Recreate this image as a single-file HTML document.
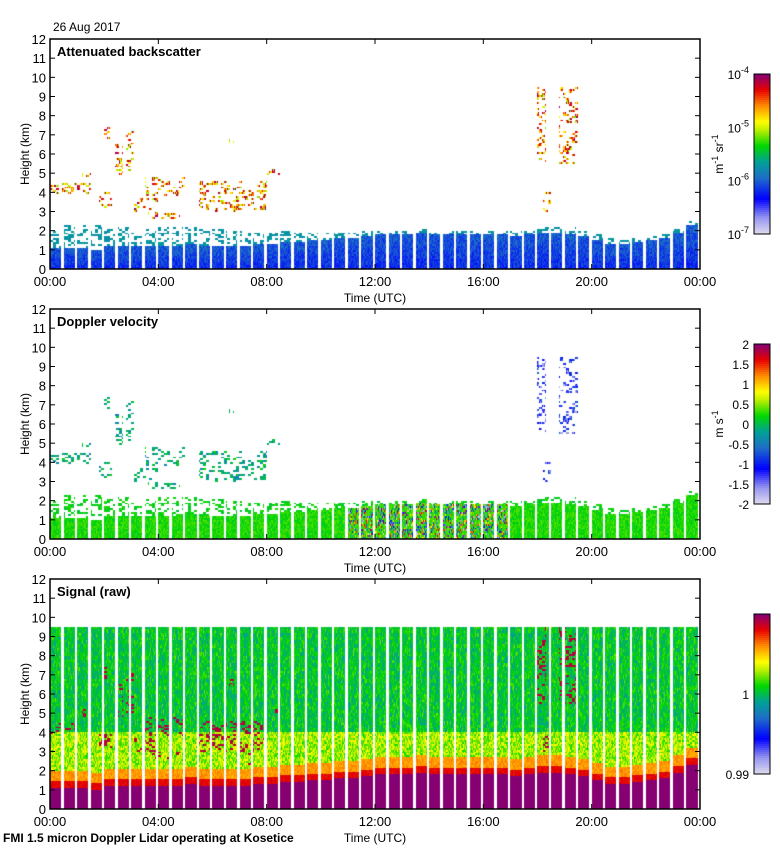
<!DOCTYPE html>
<html><head><meta charset="utf-8"><style>
body{margin:0;background:#fff;font-family:"Liberation Sans",sans-serif;}
#root{position:relative;width:780px;height:850px;overflow:hidden;background:#fff;}
.t{position:absolute;font-size:12px;color:#000;white-space:nowrap;}
canvas{position:absolute;}
</style></head><body>
<div id="root">
<div class="t" style="left:53px;top:20px">26 Aug 2017</div>
<div class="t" style="left:3px;top:831px;font-weight:bold">FMI 1.5 micron Doppler Lidar operating at Kosetice</div>
</div>
<script>
// ---- data ----
const xTickLabels=['00:00','04:00','08:00','12:00','16:00','20:00','00:00'];
const yTickLabels=[0,1,2,3,4,5,6,7,8,9,10,11,12];
// boundary-layer top (km) every 30 min
const blTop=[1.1,1.1,1.1,1.0,1.2,1.2,1.2,1.2,1.2,1.2,1.3,1.2,1.2,1.2,1.2,1.3,1.3,1.4,1.4,1.5,1.5,1.6,1.6,1.7,1.8,1.8,1.8,1.9,1.8,1.8,1.8,1.8,1.8,1.8,1.7,1.8,1.9,1.9,1.8,1.7,1.5,1.3,1.3,1.4,1.5,1.6,1.9,2.3];
// aerosol layer top (km) every 30 min
const aerosolTop=[2.3,2.3,2.3,2.3,2.2,2.2,2.2,2.2,2.2,2.2,2.2,2.1,2.1,2.0,2.0,1.9,1.9,2.0,1.9,1.9,1.9,1.9,1.9,2.0,2.0,2.0,2.0,2.1,2.0,2.0,2.0,2.0,2.0,2.0,2.0,2.0,2.2,2.2,2.2,2.0,1.8,1.6,1.5,1.6,1.7,1.8,2.1,2.5];
// cloud layers: start hour, end hour, base km, top km
const cloudStart=[0,1.2,1.8,2.0,2.4,2.8,3.1,3.5,3.6,5.5,6.6,7.3,8.0,18.0,18.2,18.8,16.9];
const cloudEnd=[1.5,1.5,2.3,2.2,2.7,3.1,4.0,5.0,4.8,8.0,6.8,7.5,8.5,18.3,18.5,19.5,17.0];
const cloudBase=[3.9,4.8,3.2,6.8,4.8,5.0,3.0,3.8,2.6,3.0,6.4,2.2,4.9,5.5,3.0,5.5,3.9];
const cloudTop=[4.5,5.2,4.0,7.4,6.5,7.2,3.7,4.8,3.0,4.6,6.8,3.2,5.2,9.5,4.0,9.5,4.1];
const signalTop=9.5;

const root=document.getElementById('root');
const L=50,W=650,H=230,tops=[39,309,579];
const titles=['Attenuated backscatter','Doppler velocity','Signal (raw)'];
const stops=[[0,[222,218,238]],[0.1,[150,150,240]],[0.22,[0,0,255]],[0.35,[30,110,200]],[0.45,[0,160,150]],[0.55,[0,215,0]],[0.65,[190,240,0]],[0.7,[255,255,0]],[0.8,[255,140,0]],[0.9,[230,0,0]],[1,[130,0,120]]];
function cmap(v){v=Math.max(0,Math.min(1,v));for(let k=1;k<stops.length;k++){if(v<=stops[k][0]){const a=stops[k-1],b=stops[k];const f=(v-a[0])/(b[0]-a[0]);return a[1].map((c,i)=>Math.round(c+(b[1][i]-c)*f));}}return stops[stops.length-1][1];}
function tex(a,b){let h=(a*374761393+b*668265263)|0;h=(h^(h>>>13))*1274126177|0;return ((h^(h>>>16))>>>0)/4294967295;}
const xScale=t=>L+t/24*W, yScale=(h,p)=>tops[p]+H-h/12*H;

function cloudAt(t,h){for(let c=0;c<cloudStart.length;c++){if(t>=cloudStart[c]&&t<cloudEnd[c]&&h>=cloudBase[c]&&h<cloudTop[c])return c;}return -1;}

function valueAt(p,t,h,px,row){
  const i=Math.min(47,Math.floor(t*2));
  const colPos=(t*2-i);const gap=colPos>0.82;
  const bl=blTop[i],ae=aerosolTop[i];
  const n=tex(px,row+p*1000);
  const blob=tex(Math.floor(px/3),row*7+3);
  if(p===2){
    if(h>=signalTop||gap)return null;
    if(h<bl)return 0.99+n*0.01;
    if(h<bl+0.35)return 0.88+n*0.04;
    if(h<bl+0.9)return 0.76+n*0.06;
    const c=cloudAt(t,h);if(c>=0&&blob<0.25)return 0.95;
    if(h<4)return 0.55+n*0.17;
    const streak=tex(px,Math.floor(row/2)+55);
    return 0.42+streak*0.12+n*0.08;
  }
  const c=cloudAt(t,h);
  if(c>=0){ if(blob<0.72)return null;
    if(p===0)return 0.6+tex(row,px)*0.4;
    return t>17.9?0.05+n*0.3:0.35+n*0.22;}
  if(gap)return null;
  if(h<bl){ if(p===0)return 0.22+n*0.1+(h/bl)*0.06;
    if(i>=22&&i<=33&&n<0.45)return tex(row,px*3);
    return 0.52+n*0.08;}
  if(h<ae){ if(blob<0.6)return null; return p===0?0.4+n*0.05:0.5+n*0.08;}
  return null;
}

tops.forEach((top,p)=>{
  const cv=document.createElement('canvas');cv.width=W;cv.height=H;
  cv.style.left=L+'px';cv.style.top=top+'px';
  
  
  root.appendChild(cv);
  const ctx=cv.getContext('2d');const img=ctx.createImageData(W,H);
  for(let y=0;y<H;y++){const h=(H-y-0.5)/H*12;const row=Math.floor(h/0.1);
    for(let x=0;x<W;x++){const t=(x+0.5)/W*24;const v=valueAt(p,t,h,x,row);const o=(y*W+x)*4;
      if(v===null){img.data[o]=img.data[o+1]=img.data[o+2]=255;}else{const c=cmap(v);img.data[o]=c[0];img.data[o+1]=c[1];img.data[o+2]=c[2];}
      img.data[o+3]=255;}}
  ctx.putImageData(img,0,0);

  const ns='http://www.w3.org/2000/svg';
  const svg=document.createElementNS(ns,'svg');svg.setAttribute('width',780);svg.setAttribute('height',850);
  svg.style.position='absolute';svg.style.left='0';svg.style.top='0';
  
  
  let s=`<rect x="${L}" y="${top}" width="${W}" height="${H}" fill="none" stroke="#000" stroke-width="1.5"/>`;
  yTickLabels.forEach(v=>{const y=yScale(v,p);s+=`<line x1="${L}" x2="${L+5}" y1="${y}" y2="${y}" stroke="#000"/><line x1="${L+W-5}" x2="${L+W}" y1="${y}" y2="${y}" stroke="#000"/><text x="${L-4}" y="${y+5}" text-anchor="end" font-size="13" font-family="Liberation Sans">${v}</text>`;});
  xTickLabels.forEach((lab,k)=>{const x=xScale(k*4);s+=`<line x1="${x}" x2="${x}" y1="${top+H-5}" y2="${top+H}" stroke="#000"/><line x1="${x}" x2="${x}" y1="${top}" y2="${top+5}" stroke="#000"/><text x="${x}" y="${top+H+17}" text-anchor="middle" font-size="13" font-family="Liberation Sans">${lab}</text>`;});
  s+=`<text x="${L+325}" y="${top+H+33}" text-anchor="middle" font-size="12" font-family="Liberation Sans">Time (UTC)</text>`;
  s+=`<text transform="translate(29,${top+H/2}) rotate(-90)" text-anchor="middle" font-size="12" font-family="Liberation Sans">Height (km)</text>`;
  s+=`<text x="${L+7}" y="${top+17}" font-size="13" font-weight="bold" font-family="Liberation Sans">${titles[p]}</text>`;
  const cbTop=top+35,cbH=160,cbX=754;
  for(let k=0;k<80;k++){const c=cmap(1-(k+0.5)/80);s+=`<rect x="${cbX}" y="${cbTop+k*2}" width="16" height="2.2" fill="rgb(${c})"/>`;}
  s+=`<rect x="${cbX}" y="${cbTop}" width="16" height="${cbH}" fill="none" stroke="#000"/>`;
  if(p===0){['-4','-5','-6','-7'].forEach((e,k)=>{const y=cbTop+k*cbH/3;s+=`<text x="749" y="${y+5}" text-anchor="end" font-size="12" font-family="Liberation Sans">10<tspan dy="-6" font-size="9">${e}</tspan></text>`;});
    s+=`<text transform="translate(723,${cbTop+80}) rotate(-90)" text-anchor="middle" font-size="12" font-family="Liberation Sans">m<tspan dy="-5" font-size="9">-1</tspan><tspan dy="5"> sr</tspan><tspan dy="-5" font-size="9">-1</tspan></text>`;}
  if(p===1){['2','1.5','1','0.5','0','-0.5','-1','-1.5','-2'].forEach((e,k)=>{const y=cbTop+k*cbH/8;s+=`<text x="749" y="${y+5}" text-anchor="end" font-size="12" font-family="Liberation Sans">${e}</text>`;});
    s+=`<text transform="translate(723,${cbTop+80}) rotate(-90)" text-anchor="middle" font-size="12" font-family="Liberation Sans">m s<tspan dy="-5" font-size="9">-1</tspan></text>`;}
  if(p===2){s+=`<text x="749" y="${cbTop+85}" text-anchor="end" font-size="12" font-family="Liberation Sans">1</text><text x="749" y="${cbTop+cbH+5}" text-anchor="end" font-size="12" font-family="Liberation Sans">0.99</text>`;}
  svg.innerHTML=s;root.appendChild(svg);
});
</script>
</body></html>
